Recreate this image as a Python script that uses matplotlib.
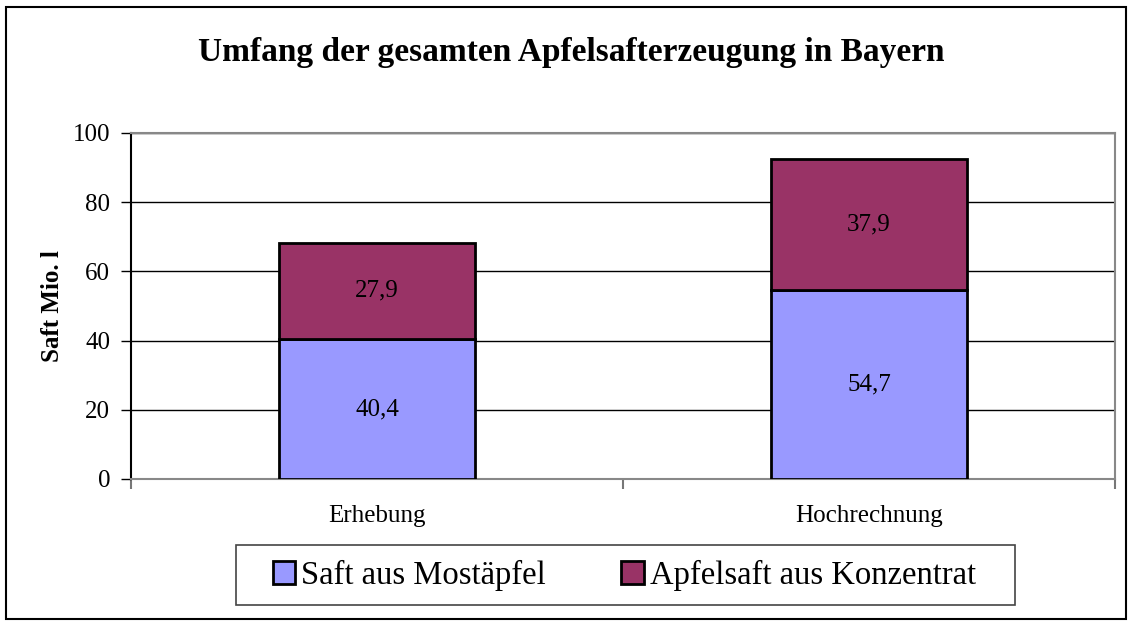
import matplotlib
matplotlib.use("Agg")
import matplotlib.pyplot as plt
from matplotlib.patches import Rectangle
from matplotlib.ticker import FixedLocator

plt.rcParams["font.family"] = ["Liberation Serif", "DejaVu Serif"]

# Daten
kategorien = ["Erhebung", "Hochrechnung"]
most = [40.4, 54.7]
konzentrat = [27.9, 37.9]
serien = ["Saft aus Mostäpfel", "Apfelsaft aus Konzentrat"]

c_most = "#9999FF"
c_konz = "#993366"

fig = plt.figure(figsize=(11.29, 6.21), dpi=100)
ax = fig.add_axes([0.1160, 0.2287, 0.8716, 0.5572])

x = list(range(len(kategorien)))
b1 = ax.bar(x, most, width=0.4, color=c_most, edgecolor="black", linewidth=2, zorder=3,
            label=serien[0])
b2 = ax.bar(x, konzentrat, width=0.4, bottom=most, color=c_konz, edgecolor="black",
            linewidth=2, zorder=3, label=serien[1])

for i in x:
    ax.text(i, most[i] / 2, f"{most[i]:.1f}".replace(".", ","), ha="center", va="center",
            fontsize=18, zorder=4)
    ax.text(i, most[i] + konzentrat[i] / 2, f"{konzentrat[i]:.1f}".replace(".", ","),
            ha="center", va="center", fontsize=18, zorder=4)

ax.set_xlim(-0.5, len(kategorien) - 0.5)
ax.set_ylim(0, 100)
ax.set_yticks(range(0, 101, 20))
ax.yaxis.grid(True, color="black", linewidth=1)
ax.set_axisbelow(True)

ax.set_xticks(x)
ax.set_xticklabels(kategorien, fontsize=18)
ax.xaxis.set_minor_locator(FixedLocator([-0.5, 0.5, 1.5]))
ax.tick_params(axis="x", which="major", length=0, pad=19)
ax.tick_params(axis="x", which="minor", length=7, width=1.5, color="#777777")
ax.tick_params(axis="y", length=7, width=1, labelsize=18, pad=8)

ax.spines["left"].set_color("black")
ax.spines["left"].set_linewidth(1.5)
for s in ["top", "right", "bottom"]:
    ax.spines[s].set_color("#888888")
    ax.spines[s].set_linewidth(1.5)

ax.set_ylabel("Saft Mio. l", fontsize=18, fontweight="bold", labelpad=6)

fig.text(0.506, 0.916, "Umfang der gesamten Apfelsafterzeugung in Bayern", ha="center",
         va="center", fontsize=24, fontweight="bold")

# Legende ohne eigenen Rahmen, Rahmen separat
leg = fig.legend(handles=[b1, b2], loc="center", bbox_to_anchor=(0.553, 0.074), ncol=2,
                 fontsize=23.5, frameon=False, handlelength=0.7, handleheight=0.7,
                 handletextpad=0.18, columnspacing=2.3, borderpad=0.4)
fig.patches.append(Rectangle((0.2090, 0.0258), 0.690, 0.0966, transform=fig.transFigure,
                             fill=False, edgecolor="#444444", linewidth=1.2))

fig.patches.append(Rectangle((0.005, 0.004), 0.992, 0.985, transform=fig.transFigure,
                             fill=False, edgecolor="black", linewidth=1.5))

fig.savefig("out.png", dpi=100)
